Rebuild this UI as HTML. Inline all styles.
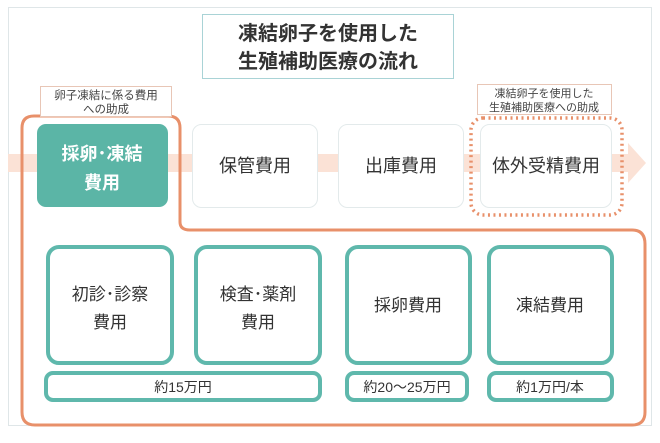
<!DOCTYPE html>
<html><head><meta charset="utf-8"><style>
body{margin:0;background:#fff}
svg text{font-family:"Liberation Sans","Noto Sans CJK JP",sans-serif}
</style></head><body>
<svg width="660" height="438" viewBox="0 0 660 438" xmlns="http://www.w3.org/2000/svg">
<rect x="8.5" y="7.5" width="643" height="418" fill="#fff" stroke="#dfe6e8"/>
<rect x="202.5" y="14.5" width="251" height="64" fill="#fff" stroke="#a9d3d6"/>
<text x="328" y="40" font-size="20" font-weight="bold" text-anchor="middle" fill="#333">凍結卵子を使用した</text>
<text x="328" y="68" font-size="20" font-weight="bold" text-anchor="middle" fill="#333">生殖補助医療の流れ</text>
<rect x="8" y="154" width="622" height="18" fill="#fbe2d6"/>
<polygon points="628,143 646,163 628,183" fill="#fbe2d6"/>
<path d="M22,128 Q22,116 34,116 L168,116 Q180,116 180,128 L180,222 Q180,230 190,230 L632,230 Q645,230 645,244 L645,412 Q645,425 632,425 L35,425 Q22,425 22,412 Z" fill="none" stroke="#e8906a" stroke-width="3"/>
<rect x="40.5" y="86.5" width="131" height="30" fill="#fff" stroke="#e8c6b6"/>
<text x="106" y="99" font-size="11.5" text-anchor="middle" fill="#444">卵子凍結に係る費用</text>
<text x="106" y="113" font-size="11.5" text-anchor="middle" fill="#444">への助成</text>
<rect x="477.5" y="84.5" width="134" height="30" fill="#fff" stroke="#e8c6b6"/>
<text x="544" y="97" font-size="11" text-anchor="middle" fill="#444">凍結卵子を使用した</text>
<text x="544" y="111" font-size="11" text-anchor="middle" fill="#444">生殖補助医療への助成</text>
<rect x="471" y="118" width="151" height="97" rx="12" fill="none" stroke="#e8906a" stroke-width="3.5" stroke-dasharray="2 3.5"/>
<rect x="37" y="124" width="131" height="83" rx="9" fill="#5bb5a6"/>
<text x="102" y="160" font-size="18" font-weight="bold" text-anchor="middle" fill="#fff">採卵･凍結</text>
<text x="102" y="189" font-size="18" font-weight="bold" text-anchor="middle" fill="#fff">費用</text>
<rect x="192.5" y="124.5" width="125" height="83" rx="9" fill="#fff" stroke="#e3eaeb"/>
<text x="255" y="172" font-size="18" text-anchor="middle" fill="#333">保管費用</text>
<rect x="338.5" y="124.5" width="125" height="83" rx="9" fill="#fff" stroke="#e3eaeb"/>
<text x="401" y="172" font-size="18" text-anchor="middle" fill="#333">出庫費用</text>
<rect x="480.5" y="124.5" width="131" height="83" rx="9" fill="#fff" stroke="#e3eaeb"/>
<text x="546" y="172" font-size="18" text-anchor="middle" fill="#333">体外受精費用</text>
<g fill="#fff" stroke="#5fb8ac" stroke-width="4">
<rect x="48" y="247" width="124" height="116" rx="11"/>
<rect x="196" y="247" width="124" height="116" rx="11"/>
<rect x="347" y="247" width="123" height="116" rx="11"/>
<rect x="489" y="247" width="123" height="116" rx="11"/>
<rect x="46" y="373" width="274" height="27" rx="7"/>
<rect x="347" y="373" width="120" height="27" rx="7"/>
<rect x="489" y="373" width="123" height="27" rx="7"/>
</g>
<g font-size="17" text-anchor="middle" fill="#333">
<text x="110" y="300">初診･診察</text>
<text x="110" y="328">費用</text>
<text x="258" y="300">検査･薬剤</text>
<text x="258" y="328">費用</text>
<text x="408" y="311">採卵費用</text>
<text x="550" y="311">凍結費用</text>
</g>
<g font-size="14" text-anchor="middle" fill="#333">
<text x="183" y="392">約15万円</text>
<text x="407" y="392">約20～25万円</text>
<text x="550" y="392">約1万円/本</text>
</g>
</svg>
</body></html>
